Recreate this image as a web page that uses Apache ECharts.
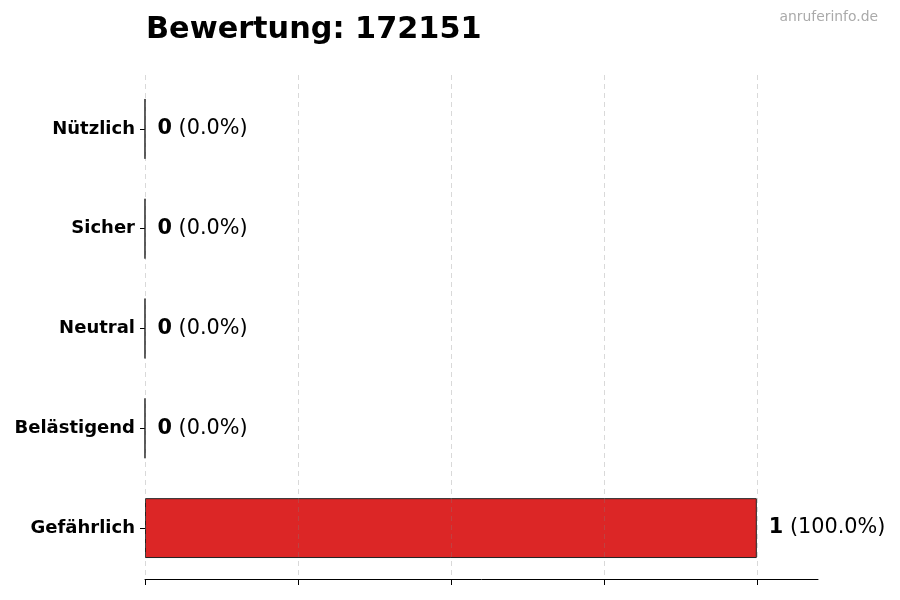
<!DOCTYPE html>
<html><head><meta charset="utf-8">
<script src="https://cdn.jsdelivr.net/npm/echarts@6/dist/echarts.min.js"></script>
<style>html,body{margin:0;padding:0;background:#fff}#c{width:900px;height:600px}</style>
</head><body><div id="c"></div>
<script>
const categories = ['Gefährlich', 'Belästigend', 'Neutral', 'Sicher', 'Nützlich'];
const values = [1, 0, 0, 0, 0];
const percents = ['100.0%', '0.0%', '0.0%', '0.0%', '0.0%'];
const titleText = 'Bewertung: 172151';
const watermark = 'anruferinfo.de';

const chart = echarts.init(document.getElementById('c'), null, {renderer: 'canvas'});
const F = 'DejaVu Sans';
chart.setOption({
  animation: false,
  textStyle: {fontFamily: F},
  title: [
    {text: titleText, left: 141, top: 10, textStyle: {fontFamily: F, fontSize: 30.3, fontWeight: 'bold', color: '#000'}},
    {text: watermark, right: 17, top: 5, textStyle: {fontFamily: F, fontSize: 13.9, fontWeight: 'normal', color: '#aaaaaa'}}
  ],
  grid: [
    {left: 145, right: 82, top: 79, bottom: 22, containLabel: false},
    {left: 145, right: 143, top: 75, bottom: 21, containLabel: false}
  ],
  xAxis: [
    {
      type: 'value', gridIndex: 0, min: 0, max: 1.1,
      offset: 1.5,
      axisLine: {show: true, lineStyle: {color: '#000', width: 1}},
      axisTick: {show: false},
      axisLabel: {show: false},
      splitLine: {show: false}
    },
    {
      type: 'value', gridIndex: 1, min: 0, max: 1, interval: 0.25,
      offset: 2.5, z: 3,
      axisLine: {show: false},
      axisTick: {show: true, length: 6, lineStyle: {color: '#000'}},
      axisLabel: {show: false},
      splitLine: {show: true, lineStyle: {color: 'rgba(128,128,128,0.3)', type: [5, 4], width: 1}}
    }
  ],
  yAxis: [
    {
      type: 'category', gridIndex: 0, data: categories,
      axisLine: {show: false},
      axisTick: {show: true, length: 5, alignWithLabel: true, lineStyle: {color: '#000'}},
      axisLabel: {fontFamily: F, fontSize: 18, fontWeight: 'bold', color: '#000', margin: 10},
      splitLine: {show: false}
    },
    {
      type: 'value', gridIndex: 1, show: false
    }
  ],
  series: [{
    type: 'bar', xAxisIndex: 0, yAxisIndex: 0, data: values, barWidth: '60%',
    itemStyle: {color: '#dc2626', borderColor: '#222', borderWidth: 1},
    label: {
      show: true, position: 'right', distance: 12,
      fontFamily: F, fontSize: 20.8, color: '#000',
      formatter: p => '{b|' + values[p.dataIndex] + '} {n|(' + percents[p.dataIndex] + ')}',
      rich: {
        b: {fontFamily: F, fontSize: 20.8, fontWeight: 'bold', color: '#000'},
        n: {fontFamily: F, fontSize: 20.8, color: '#000'}
      }
    }
  }]
});
</script></body></html>
